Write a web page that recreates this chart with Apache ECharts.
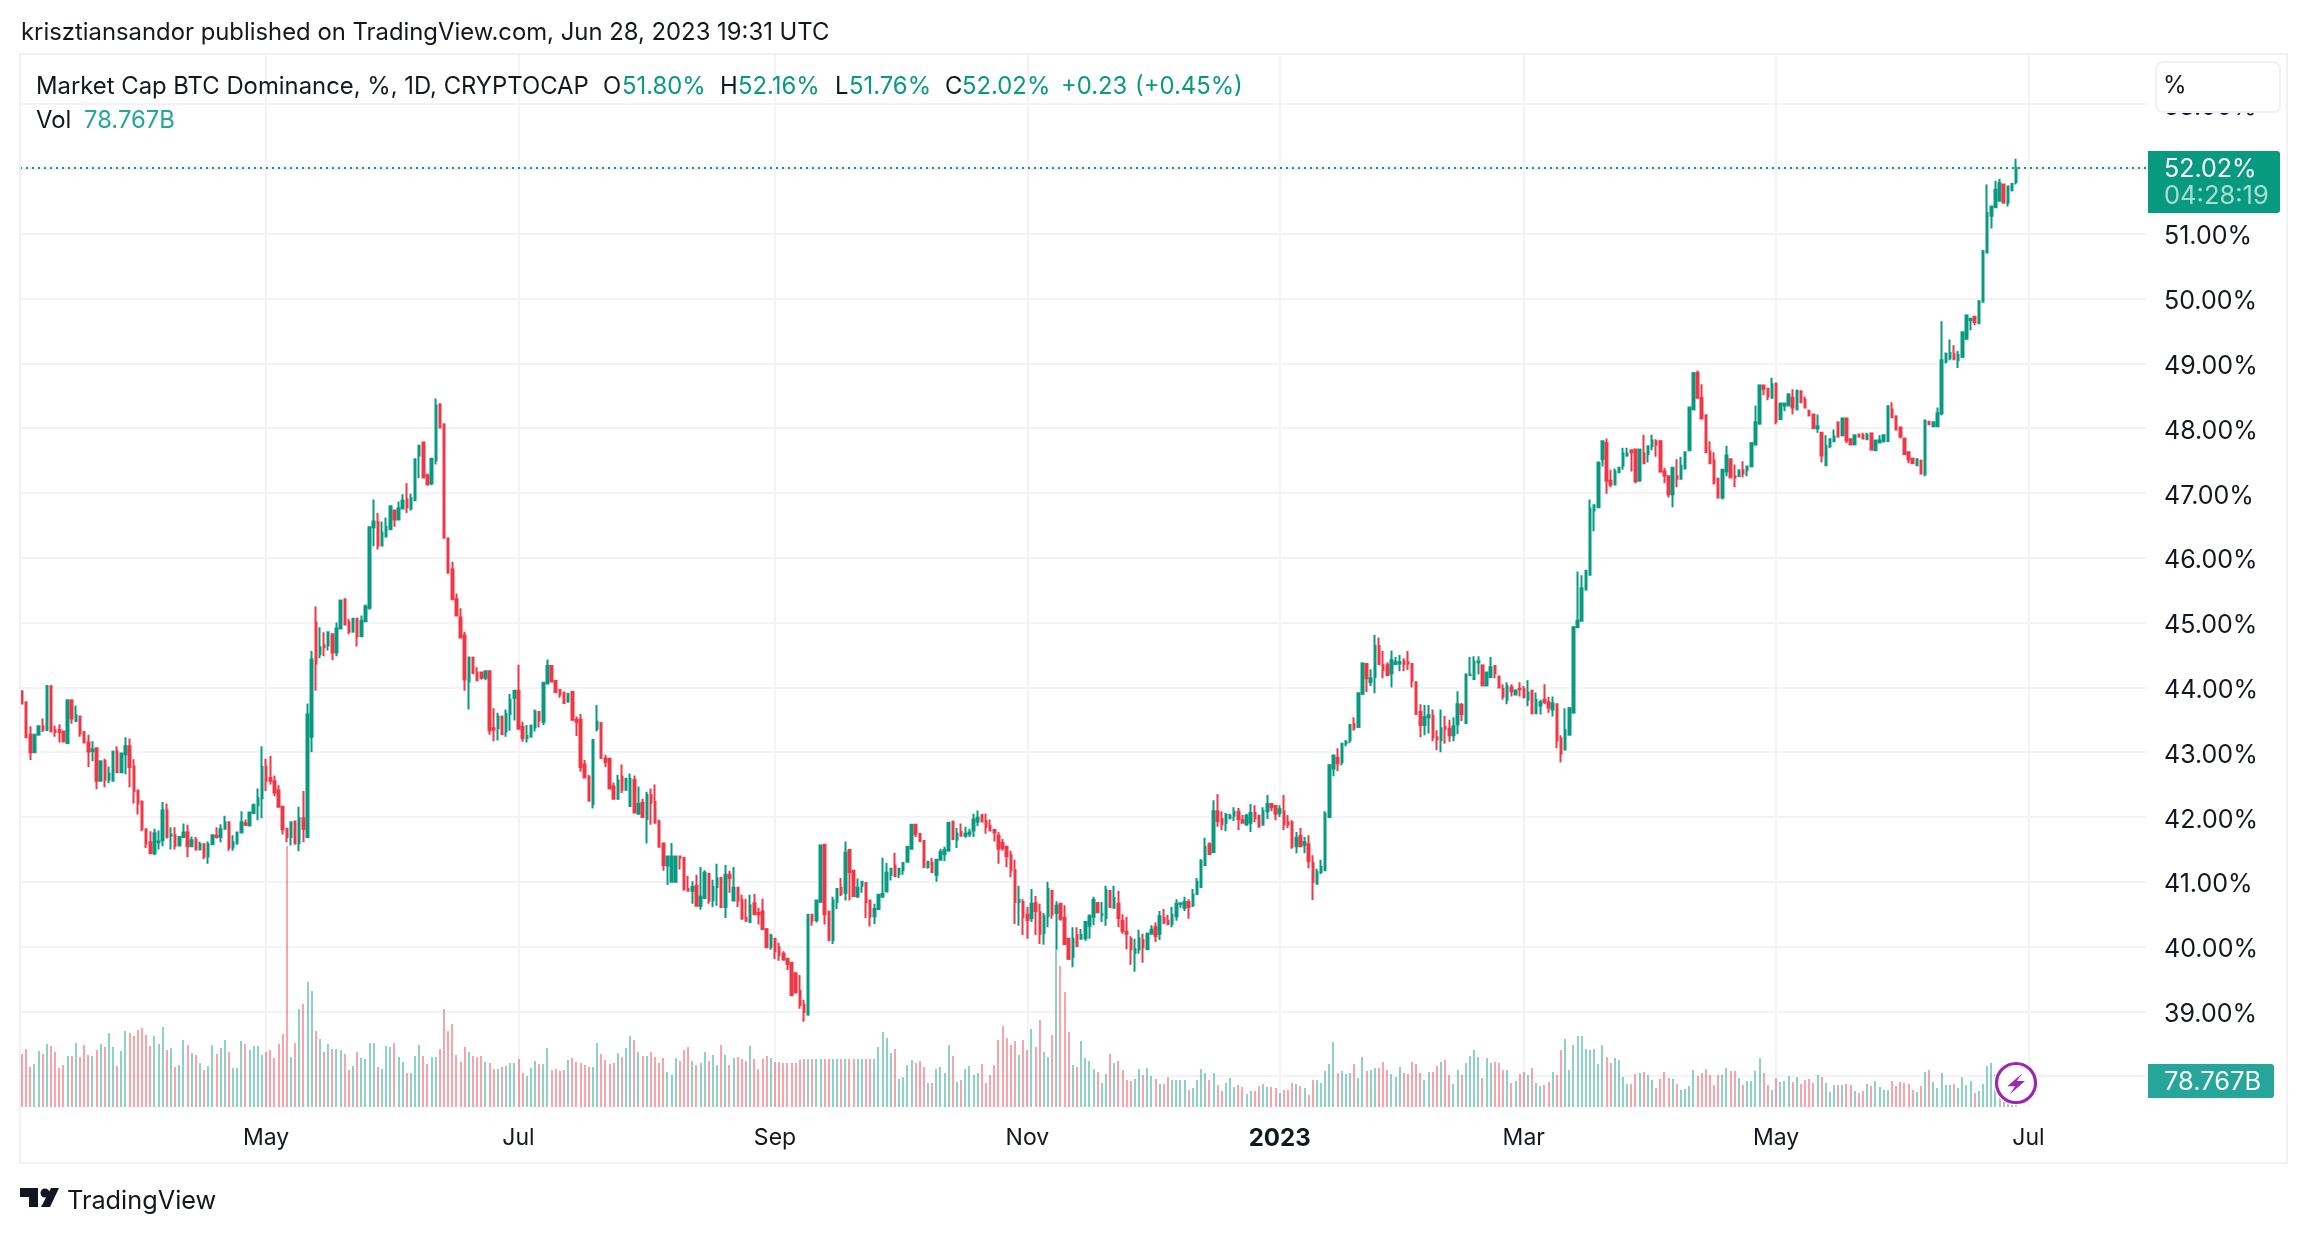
<!DOCTYPE html>
<html>
<head>
<meta charset="utf-8">
<title>BTC Dominance</title>
<script src="https://cdn.jsdelivr.net/npm/echarts@6/dist/echarts.min.js"></script>
<style>
  html, body { margin: 0; padding: 0; background: #fff; }
  #chart { width: 2308px; height: 1234px; }
</style>
</head>
<body>
<div id="chart"></div>
<script>
// daily candles, first one is 2022-03-03
var startDate = '2022-03-03';
var totalSlots = 514; // includes the empty days right of the last candle

var opens = [
  43.94,43.77,43.27,43.00,43.27,43.40,43.34,44.02,43.34,43.34,
  43.32,43.14,43.80,43.48,43.55,43.31,43.15,43.02,43.06,42.56,
  42.86,42.58,42.56,43.01,42.69,42.97,43.09,42.78,42.41,42.23,
  41.81,41.61,41.44,41.61,41.64,42.10,41.71,41.72,41.56,41.69,
  41.76,41.55,41.65,41.50,41.58,41.39,41.58,41.71,41.69,41.82,
  41.92,41.53,41.59,41.76,41.90,41.87,42.06,42.18,42.29,42.78,
  42.60,42.55,42.41,42.16,41.82,41.69,41.93,41.60,41.98,41.69,
  43.24,45.00,44.51,44.65,44.65,44.82,44.54,44.91,45.36,45.00,
  44.86,45.06,44.79,45.02,45.23,46.47,46.55,46.19,46.33,46.44,
  46.73,46.59,46.76,46.90,46.76,46.89,47.58,47.78,47.27,47.15,
  47.50,48.37,48.06,46.30,45.82,45.36,45.08,44.80,44.09,44.46,
  44.23,44.23,44.15,44.25,43.37,43.37,43.55,43.32,43.59,43.84,
  43.95,43.39,43.22,43.24,43.38,43.62,43.47,44.06,44.33,44.10,
  43.96,43.92,43.78,43.93,43.50,43.50,42.81,42.62,42.20,43.36,
  43.45,42.90,42.90,42.47,42.28,42.62,42.42,42.17,42.57,42.05,
  42.22,41.97,42.34,42.23,41.93,41.59,41.25,41.00,41.00,41.39,
  41.37,40.89,40.86,40.94,40.63,40.75,41.12,40.71,40.92,41.06,
  40.61,41.11,40.71,40.91,40.72,40.44,40.38,40.67,40.52,40.54,
  40.27,39.99,40.12,39.99,39.89,39.81,39.75,39.59,39.32,39.10,
  38.95,40.49,40.41,40.69,41.57,40.54,40.10,40.69,40.91,40.83,
  41.49,41.17,40.77,40.94,40.98,40.71,40.47,40.58,40.77,40.85,
  41.11,41.25,41.12,41.18,41.31,41.51,41.88,41.74,41.63,41.23,
  41.29,41.11,41.34,41.43,41.48,41.93,41.65,41.77,41.71,41.74,
  41.79,41.93,42.03,41.94,41.86,41.80,41.71,41.60,41.54,41.41,
  41.18,40.69,40.69,40.49,40.44,40.67,40.53,40.21,40.47,40.86,
  40.52,40.66,40.44,40.12,39.84,40.18,40.12,40.13,40.32,40.46,
  40.67,40.49,40.44,40.86,40.60,40.66,40.40,40.23,40.12,39.90,
  39.96,40.10,39.96,40.20,40.30,40.20,40.44,40.40,40.35,40.47,
  40.66,40.60,40.69,40.64,40.81,40.92,41.26,41.58,41.46,42.09,
  41.97,41.91,41.98,42.02,42.08,41.95,41.89,41.91,42.06,42.02,
  41.88,42.09,42.20,42.17,42.06,42.09,41.92,41.92,41.55,41.71,
  41.57,41.58,41.29,40.97,41.15,41.18,42.00,42.75,42.91,42.85,
  43.14,43.19,43.43,43.39,43.90,44.36,44.08,44.16,44.64,44.34,
  44.34,44.22,44.36,44.37,44.40,44.39,44.36,44.08,43.62,43.42,
  43.54,43.56,43.23,43.19,43.39,43.36,43.26,43.43,43.73,43.45,
  44.19,44.13,44.39,44.34,44.03,44.16,44.33,44.17,43.98,43.81,
  44.00,43.89,43.98,43.97,43.81,43.95,43.60,43.72,43.81,43.77,
  43.66,43.74,43.21,43.04,43.27,43.61,44.93,45.03,45.51,45.74,
  46.73,46.78,47.52,47.77,47.19,47.13,47.32,47.42,47.58,47.66,
  47.67,47.19,47.61,47.60,47.72,47.80,47.80,47.33,47.26,46.98,
  47.26,47.22,47.38,47.66,48.29,48.85,48.47,48.20,47.64,47.50,
  47.22,46.93,47.33,47.52,47.26,47.26,47.35,47.35,47.41,47.75,
  48.07,48.66,48.61,48.47,48.69,48.14,48.35,48.35,48.47,48.29,
  48.57,48.44,48.26,48.21,48.00,47.93,47.43,47.72,47.80,48.09,
  47.89,48.15,47.83,47.75,47.90,47.89,47.83,47.92,47.66,47.78,
  47.80,47.80,48.29,48.18,48.01,47.84,47.63,47.53,47.43,47.50,
  47.29,48.10,48.03,48.03,48.23,49.03,49.08,49.14,49.05,49.10,
  49.38,49.67,49.72,49.62,49.95,50.71,51.28,51.41,51.51,51.76,
  51.48,51.67,51.80
];

var closes = [
  43.75,43.23,43.00,43.27,43.40,43.35,44.02,43.32,43.31,43.31,
  43.17,43.80,43.52,43.57,43.29,43.15,43.01,43.04,42.56,42.86,
  42.58,42.67,43.01,42.69,42.98,43.09,42.77,42.40,42.21,41.82,
  41.59,41.44,41.75,41.62,42.10,41.69,41.73,41.56,41.69,41.76,
  41.55,41.64,41.50,41.58,41.39,41.58,41.72,41.69,41.81,41.92,
  41.53,41.61,41.76,41.92,41.88,42.07,42.18,42.29,42.77,42.56,
  42.56,42.38,42.16,41.81,41.69,41.92,41.59,41.98,41.82,43.58,
  44.43,44.37,44.62,44.62,44.85,44.54,44.91,45.34,44.97,44.86,
  45.06,44.79,45.03,45.25,46.47,46.56,46.19,46.39,46.48,46.79,
  46.59,46.76,46.88,46.78,46.92,47.52,47.73,47.24,47.13,47.53,
  48.35,48.01,46.31,45.77,45.36,45.11,44.77,44.12,44.46,44.22,
  44.11,44.15,44.25,43.34,43.35,43.55,43.28,43.59,43.81,43.95,
  43.36,43.22,43.25,43.41,43.63,43.49,44.07,44.33,44.09,43.93,
  43.89,43.76,43.90,43.50,43.47,42.77,42.61,42.25,43.19,43.47,
  42.91,42.85,42.44,42.28,42.56,42.42,42.59,42.59,42.07,42.20,
  42.00,42.34,42.22,41.91,41.54,41.26,41.39,41.39,41.39,41.37,
  40.88,40.86,40.92,40.63,40.77,41.14,40.71,40.92,41.05,40.61,
  41.11,41.06,40.91,40.71,40.43,40.40,40.64,40.50,40.50,40.27,
  39.99,40.17,39.93,39.87,39.80,39.73,39.25,39.29,39.10,38.99,
  40.49,40.40,40.71,41.56,40.50,40.10,40.71,40.89,40.81,41.45,
  41.15,40.78,40.91,41.00,40.69,40.46,40.58,40.80,40.81,41.14,
  41.20,41.09,41.20,41.29,41.54,41.88,41.74,41.63,41.23,41.31,
  41.15,41.34,41.46,41.49,41.91,41.66,41.74,41.71,41.74,41.76,
  41.96,41.99,41.93,41.85,41.79,41.76,41.51,41.52,41.40,41.18,
  40.69,40.72,40.46,40.41,40.66,40.55,40.20,40.47,40.89,40.50,
  40.63,40.43,40.04,39.81,40.12,40.01,40.18,40.38,40.47,40.72,
  40.53,40.50,40.87,40.61,40.75,40.44,40.24,40.20,39.96,39.96,
  40.13,39.99,40.20,40.26,40.16,40.47,40.37,40.35,40.49,40.66,
  40.67,40.69,40.61,40.80,41.00,41.32,41.54,41.43,42.09,41.94,
  41.89,42.03,42.02,42.08,41.97,41.91,42.02,42.06,41.98,41.85,
  42.09,42.20,42.15,42.05,42.12,41.89,41.89,41.54,41.68,41.55,
  41.61,41.32,41.00,41.15,41.23,42.05,42.80,42.95,42.83,43.13,
  43.16,43.42,43.37,43.91,44.37,44.14,44.14,44.64,44.36,44.27,
  44.19,44.42,44.39,44.39,44.36,44.37,44.10,43.59,43.42,43.54,
  43.57,43.23,43.20,43.37,43.36,43.26,43.40,43.74,43.59,44.20,
  44.20,44.40,44.40,44.03,44.23,44.31,44.22,44.00,43.86,44.02,
  43.94,43.95,43.97,43.85,43.92,43.60,43.81,43.77,43.78,43.69,
  43.75,43.18,42.98,43.34,43.68,44.93,45.03,45.53,45.80,46.76,
  46.81,47.47,47.80,47.19,47.13,47.33,47.39,47.61,47.61,47.63,
  47.18,47.67,47.46,47.72,47.81,47.75,47.33,47.27,46.98,47.39,
  47.22,47.42,47.63,48.32,48.85,48.47,48.15,47.63,47.46,47.16,
  46.93,47.36,47.58,47.24,47.24,47.35,47.30,47.41,47.77,48.09,
  48.66,48.61,48.49,48.68,48.10,48.38,48.38,48.52,48.32,48.58,
  48.40,48.32,48.20,48.00,48.03,47.58,47.73,47.83,47.87,47.87,
  48.15,47.81,47.75,47.89,47.87,47.84,47.90,47.67,47.81,47.81,
  47.89,48.34,48.17,47.98,47.87,47.60,47.52,47.46,47.52,47.30,
  48.12,48.06,48.09,48.23,49.05,49.15,49.16,49.07,49.13,49.48,
  49.74,49.69,49.64,49.96,50.73,51.32,51.42,51.68,51.78,51.48,
  51.73,51.77,52.02
];

var lows = [
  43.74,43.23,42.88,43.00,43.27,43.31,43.34,43.32,43.24,43.15,
  43.15,43.14,43.44,43.48,43.24,43.15,42.77,42.86,42.43,42.56,
  42.46,42.52,42.56,42.69,42.69,42.66,42.46,42.21,42.04,41.78,
  41.52,41.44,41.41,41.50,41.55,41.67,41.50,41.50,41.56,41.69,
  41.38,41.55,41.50,41.50,41.35,41.28,41.58,41.67,41.61,41.82,
  41.48,41.48,41.59,41.76,41.86,41.87,42.06,41.95,41.98,42.40,
  42.50,42.32,42.16,41.73,41.61,41.56,41.59,41.47,41.61,41.69,
  43.00,43.95,44.45,44.48,44.57,44.42,44.48,44.91,44.97,44.82,
  44.86,44.63,44.79,45.02,45.20,46.18,46.13,46.19,46.33,46.44,
  46.48,46.59,46.76,46.69,46.73,46.89,47.23,47.24,47.13,47.12,
  47.44,48.01,46.31,45.77,45.36,45.11,44.77,43.95,43.66,44.22,
  44.11,44.12,44.11,43.27,43.17,43.18,43.28,43.24,43.33,43.49,
  43.36,43.16,43.15,43.24,43.32,43.38,43.42,44.06,44.09,43.93,
  43.84,43.76,43.78,43.50,43.25,42.70,42.61,42.25,42.13,43.32,
  42.91,42.77,42.44,42.27,42.28,42.37,42.42,42.17,42.07,42.05,
  42.00,41.59,41.88,41.91,41.54,41.17,40.95,41.00,41.00,41.19,
  40.88,40.86,40.66,40.63,40.57,40.75,40.66,40.61,40.63,40.61,
  40.44,40.83,40.71,40.61,40.43,40.40,40.38,40.50,40.34,40.27,
  39.99,39.95,39.81,39.78,39.78,39.64,39.25,39.29,39.04,38.84,
  38.95,40.32,40.37,40.69,40.34,40.10,40.04,40.58,40.78,40.71,
  40.71,40.78,40.77,40.83,40.44,40.31,40.35,40.58,40.77,40.85,
  41.02,41.09,41.06,41.11,41.31,41.51,41.69,41.63,41.23,41.20,
  41.15,41.00,41.34,41.32,41.48,41.66,41.52,41.71,41.68,41.69,
  41.69,41.86,41.93,41.74,41.79,41.62,41.28,41.48,41.23,41.07,
  40.35,40.32,40.18,40.12,40.38,40.18,40.04,40.03,40.30,40.43,
  39.95,40.40,40.04,39.81,39.68,39.99,40.12,40.09,40.12,40.33,
  40.53,40.38,40.32,40.61,40.60,40.30,40.20,39.96,39.72,39.61,
  39.89,39.75,39.96,40.20,40.07,40.10,40.35,40.35,40.30,40.40,
  40.60,40.55,40.43,40.61,40.81,40.92,41.26,41.43,41.44,41.85,
  41.80,41.78,41.98,41.94,41.80,41.91,41.86,41.77,41.92,41.85,
  41.88,41.97,42.09,41.95,42.00,41.80,41.83,41.51,41.44,41.55,
  41.44,41.21,40.72,40.97,41.12,41.18,42.00,42.63,42.71,42.80,
  43.09,43.14,43.33,43.39,43.90,43.93,44.02,43.91,44.36,44.14,
  44.19,44.00,44.36,44.25,44.25,44.27,44.00,43.59,43.23,43.26,
  43.29,43.17,43.03,43.00,43.13,43.16,43.17,43.28,43.48,43.45,
  44.19,44.13,44.20,44.03,44.03,44.16,44.14,43.99,43.81,43.74,
  43.86,43.89,43.86,43.83,43.71,43.60,43.60,43.58,43.74,43.61,
  43.55,43.06,42.84,43.04,43.27,43.61,44.93,45.03,45.51,45.74,
  46.41,46.78,47.41,46.99,47.09,47.13,47.32,47.36,47.56,47.33,
  47.15,47.19,47.46,47.47,47.66,47.56,47.33,47.15,46.93,46.78,
  47.09,47.22,47.38,47.66,48.29,48.47,48.15,47.63,47.46,47.13,
  46.93,46.90,47.26,47.24,47.09,47.26,47.24,47.26,47.41,47.75,
  48.07,48.51,48.43,48.47,48.06,48.14,48.26,48.35,48.21,48.29,
  48.40,48.32,48.18,48.00,47.93,47.47,47.43,47.69,47.80,47.87,
  47.89,47.77,47.75,47.75,47.86,47.84,47.83,47.67,47.66,47.78,
  47.78,47.80,48.17,47.98,47.84,47.60,47.46,47.46,47.43,47.30,
  47.26,48.06,48.03,48.03,48.20,49.00,49.05,49.05,48.93,49.10,
  49.38,49.51,49.59,49.62,49.95,50.71,51.08,51.41,51.51,51.48,
  51.42,51.67,51.76
];

var highs = [
  43.94,43.77,43.40,43.27,43.40,43.52,44.02,44.02,43.41,43.43,
  43.32,43.80,43.80,43.72,43.55,43.31,43.27,43.17,43.06,42.86,
  42.90,42.78,43.01,43.09,42.98,43.23,43.21,42.89,42.41,42.26,
  41.81,41.78,41.82,41.79,42.23,42.21,41.84,41.84,41.69,41.90,
  41.88,41.70,41.69,41.62,41.58,41.62,41.73,41.84,41.89,42.02,
  41.92,41.72,41.76,42.09,41.96,42.07,42.21,42.44,43.09,42.90,
  42.94,42.64,42.49,42.16,41.82,41.92,41.93,42.16,42.40,43.75,
  44.56,45.25,44.93,44.85,44.85,44.82,45.00,45.34,45.36,45.06,
  45.06,45.06,45.11,45.28,46.47,46.90,46.69,46.56,46.62,46.81,
  46.73,46.87,46.98,47.15,46.99,47.52,47.73,47.78,47.30,47.53,
  48.46,48.37,48.06,46.30,45.94,45.45,45.22,44.86,44.46,44.46,
  44.31,44.23,44.25,44.25,43.68,43.61,43.55,43.66,43.90,43.95,
  44.35,43.47,43.42,43.41,43.66,43.62,44.07,44.43,44.33,44.10,
  43.96,43.92,43.90,43.93,43.55,43.59,42.88,42.65,43.19,43.73,
  43.45,42.96,42.90,42.53,42.65,42.81,42.59,42.67,42.64,42.47,
  42.28,42.39,42.44,42.50,41.96,41.59,41.39,41.60,41.39,41.39,
  41.37,41.09,41.01,41.11,41.23,41.18,41.14,41.03,41.28,41.06,
  41.26,41.17,41.23,40.91,40.80,40.74,40.80,40.81,40.60,40.74,
  40.27,40.20,40.12,40.06,39.93,39.81,39.75,39.59,39.56,39.18,
  40.49,40.49,40.71,41.56,41.57,40.54,40.77,40.89,41.06,41.62,
  41.49,41.17,41.05,41.00,40.98,40.71,40.66,40.80,41.37,41.29,
  41.20,41.45,41.20,41.29,41.54,41.88,41.88,41.74,41.63,41.31,
  41.37,41.34,41.51,41.54,41.91,41.93,41.83,41.90,41.85,41.82,
  42.05,42.10,42.03,42.05,41.96,41.80,41.77,41.66,41.54,41.48,
  41.34,40.94,40.73,40.61,40.89,40.78,40.66,40.52,41.00,40.86,
  40.70,40.66,40.64,40.12,40.30,40.30,40.27,40.38,40.50,40.77,
  40.69,40.69,40.94,40.86,40.94,40.86,40.50,40.46,40.16,40.12,
  40.26,40.20,40.20,40.33,40.37,40.55,40.58,40.49,40.61,40.73,
  40.67,40.77,40.73,40.89,41.06,41.35,41.68,41.61,42.26,42.35,
  42.09,42.06,42.05,42.15,42.14,42.03,42.05,42.20,42.18,42.02,
  42.15,42.34,42.20,42.17,42.18,42.34,42.03,41.95,41.77,41.83,
  41.69,41.72,41.41,41.20,41.34,42.09,42.80,42.95,43.06,43.13,
  43.19,43.42,43.54,43.91,44.37,44.36,44.28,44.81,44.77,44.56,
  44.39,44.57,44.47,44.50,44.45,44.56,44.36,44.08,43.74,43.73,
  43.73,43.66,43.34,43.66,43.56,43.50,43.54,43.94,43.76,44.20,
  44.47,44.48,44.48,44.34,44.23,44.47,44.33,44.17,44.05,44.08,
  44.05,43.97,44.08,44.02,44.11,43.95,43.92,43.81,44.05,43.85,
  43.86,43.74,43.26,43.68,43.68,44.93,45.79,45.73,45.80,46.90,
  46.81,47.47,47.80,47.84,47.36,47.38,47.39,47.70,47.70,47.66,
  47.67,47.67,47.90,47.72,47.90,47.83,47.80,47.39,47.26,47.39,
  47.52,47.56,47.64,48.32,48.85,48.89,48.68,48.20,47.80,47.63,
  47.22,47.36,47.73,47.52,47.44,47.35,47.49,47.41,47.77,48.35,
  48.66,48.66,48.61,48.78,48.69,48.38,48.38,48.54,48.60,48.58,
  48.57,48.49,48.29,48.21,48.21,47.93,47.89,47.83,47.98,48.09,
  48.15,48.15,47.83,47.89,47.92,47.93,47.93,47.92,47.81,47.89,
  47.89,48.34,48.40,48.20,48.01,47.84,47.63,47.53,47.53,47.50,
  48.12,48.10,48.10,48.32,49.65,49.17,49.37,49.28,49.19,49.48,
  49.74,49.69,49.73,49.96,50.75,51.76,51.42,51.82,51.85,51.76,
  51.73,51.77,52.16
];

// volume in billions
var volumes = [
  159,174,120,129,168,159,189,183,165,117,
  126,153,153,192,150,186,156,153,171,189,
  180,222,180,123,168,228,222,213,231,237,
  216,183,213,189,240,171,177,120,126,201,
  186,162,156,132,111,123,186,159,177,201,
  165,117,117,198,189,171,183,183,156,165,
  171,147,189,219,783,150,192,294,309,375,
  348,228,204,165,189,174,174,171,159,111,
  123,165,147,144,192,192,120,114,183,180,
  192,150,135,102,102,153,186,153,129,150,
  150,174,294,228,249,156,135,180,165,153,
  150,153,135,132,114,114,120,123,132,132,
  144,102,93,117,138,129,129,177,111,114,
  108,111,141,147,135,132,126,120,120,192,
  159,141,129,132,162,150,177,213,201,165,
  153,153,165,150,132,147,105,96,147,138,
  171,180,138,126,132,165,138,156,126,186,
  156,126,147,150,144,138,183,144,114,144,
  153,147,135,135,132,132,132,132,141,144,
  144,144,144,144,144,144,144,144,144,144,
  144,144,144,144,144,144,144,180,225,207,
  162,174,84,90,126,141,132,138,120,72,
  72,114,120,102,186,153,75,81,114,123,
  96,102,129,72,96,126,201,243,207,186,
  198,156,201,171,234,180,261,165,150,216,
  471,423,345,225,126,120,198,147,138,114,
  105,72,99,159,132,138,111,81,78,84,
  114,96,117,93,84,69,69,90,81,81,
  81,81,51,57,81,114,102,81,102,66,
  48,72,87,60,66,60,39,48,48,63,
  69,60,60,57,42,51,51,72,69,63,
  57,36,81,81,72,108,129,195,102,108,
  99,102,129,87,150,108,111,117,117,135,
  111,99,90,120,102,99,135,129,102,81,
  105,105,123,135,141,96,69,111,96,132,
  153,171,150,87,147,132,135,132,111,111,
  72,78,99,105,96,117,72,63,66,75,
  105,96,171,204,111,186,213,213,174,171,
  174,129,186,150,132,147,141,90,69,69,
  99,102,105,96,81,57,84,105,87,84,
  69,51,54,63,111,93,102,114,96,66,
  96,96,117,108,108,87,66,78,78,108,
  147,102,66,51,87,75,78,93,75,90,
  69,81,84,72,96,90,72,45,66,66,
  66,69,66,48,42,48,69,63,78,60,
  51,51,78,63,75,72,69,51,45,63,
  105,111,75,57,102,66,66,69,57,90,
  66,78,42,48,69,123,132,100,100,90,
  80,70,78.767
];

var tickDates = ['2022-05-01','2022-07-01','2022-09-01','2022-11-01','2023-01-01','2023-03-01','2023-05-01','2023-07-01'];
var tickLabels = ['May','Jul','Sep','Nov','2023','Mar','May','Jul'];
var priceTicks = [39,40,41,42,43,44,45,46,47,48,49,50,51,53];
var lastPrice = 52.02;

var upColor = '#089981';
var downColor = '#F23645';
var textColor = '#131722';
var gridColor = '#F2F3F5';
var borderColor = '#F0F1F6';
var fontName = 'Inter, "Noto Sans", sans-serif';

var categories = [];
for (var i = 0; i < totalSlots; i++) {
  var d = new Date(Date.parse(startDate + 'T00:00:00Z') + i * 86400000);
  categories.push(d.toISOString().slice(0, 10));
}

var candleData = opens.map(function(o, i) {
  return [o, closes[i], lows[i], highs[i]];
});

var volumeData = volumes.map(function(v, i) {
  return [i, v];
});

function label(text, x, y, color, size, extra) {
  var st = { text: text, x: x, y: y, fill: color, font: (size || 23.85) + 'px ' + fontName, textVerticalAlign: 'middle' };
  if (extra) { for (var k in extra) { st[k] = extra[k]; } }
  return { type: 'text', z: 120, silent: true, style: st };
}

var graphics = [
  // panel frame
  { type: 'rect', z: 90, silent: true, shape: { x: 20, y: 54, width: 2267, height: 1109 }, style: { fill: 'none', stroke: borderColor, lineWidth: 2 } },
  // price tag
  { type: 'rect', z: 100, silent: true, shape: { x: 2148, y: 151, width: 132, height: 62, r: [0, 3, 3, 0] }, style: { fill: upColor } },
  label('52.02%', 2164, 169, '#ffffff', 25),
  label('04:28:19', 2164, 196, 'rgba(255,255,255,0.65)', 25.5),
  // volume tag
  { type: 'rect', z: 100, silent: true, shape: { x: 2148, y: 1064, width: 126, height: 34, r: [0, 3, 3, 0] }, style: { fill: '#26A69A' } },
  label('78.767B', 2164, 1082, '#ffffff', 25.5),
  // scale box
  { type: 'rect', z: 100, silent: true, shape: { x: 2156, y: 62, width: 124, height: 50, r: 7 }, style: { fill: '#ffffff', stroke: borderColor, lineWidth: 2 } },
  label('%', 2163, 86, textColor, 24),
  // header
  label('krisztiansandor published on TradingView.com, Jun 28, 2023 19:31 UTC', 21, 33, textColor),
  label('Market Cap BTC Dominance, %, 1D, CRYPTOCAP', 36, 87, textColor),
  label('O', 603, 87, textColor),
  label('51.80%', 622, 87, upColor),
  label('H', 720, 87, textColor),
  label('52.16%', 738, 87, upColor),
  label('L', 835, 87, textColor),
  label('51.76%', 849, 87, upColor),
  label('C', 945, 87, textColor),
  label('52.02%', 962, 87, upColor),
  label('+0.23', 1061, 87, upColor),
  label('(+0.45%)', 1135, 87, upColor),
  label('Vol', 36, 121, textColor),
  label('78.767B', 84, 121, '#26A69A'),
  // footer logo
  { type: 'polygon', z: 100, silent: true, shape: { points: [[20, 1188], [38, 1188], [38, 1207], [29, 1207], [29, 1197], [20, 1197]] }, style: { fill: textColor } },
  { type: 'circle', z: 100, silent: true, shape: { cx: 45, cy: 1193, r: 4.5 }, style: { fill: textColor } },
  { type: 'polygon', z: 100, silent: true, shape: { points: [[51, 1188], [59, 1188], [50, 1207], [41, 1207]] }, style: { fill: textColor } },
  label('TradingView', 67, 1201, textColor, 25.3),
  // lightning icon over the last bars
  { type: 'circle', z: 100, silent: true, shape: { cx: 2016, cy: 1083, r: 22.5 }, style: { fill: '#ffffff' } },
  { type: 'circle', z: 101, silent: true, shape: { cx: 2016, cy: 1083, r: 19.5 }, style: { fill: '#ffffff', stroke: '#9C27B0', lineWidth: 3.2 } },
  { type: 'polygon', z: 102, silent: true, shape: { points: [[2022.7, 1073], [2007.3, 1086.3], [2015, 1086.3], [2010, 1094.3], [2025, 1081], [2016.7, 1081]] }, style: { fill: '#9C27B0' } }
];

// volume bars snapped to whole pixels so they stay crisp at 2px wide
function renderVolume(params, api) {
  var idx = api.value(0);
  var top = api.coord([idx, api.value(1)]);
  var base = api.coord([idx, 0]);
  return {
    type: 'rect',
    shape: { x: Math.round(top[0]) - 1, y: Math.round(top[1]), width: 2, height: Math.round(base[1]) - Math.round(top[1]) },
    style: { fill: closes[idx] >= opens[idx] ? 'rgba(8,153,129,0.45)' : 'rgba(242,54,69,0.45)' }
  };
}

var chart = echarts.init(document.getElementById('chart'));
chart.setOption({
  animation: false,
  backgroundColor: '#ffffff',
  grid: [
    { left: 20, top: 39.4, width: 2126.4, height: 1101.6 },
    { left: 20, top: 54, width: 2126.4, height: 1053 }
  ],
  xAxis: [
    { type: 'category', gridIndex: 0, data: categories, show: false },
    {
      type: 'category',
      gridIndex: 1,
      data: categories,
      axisLine: { show: false },
      axisTick: { show: false, alignWithLabel: true },
      splitLine: {
        show: true,
        alignWithLabel: true,
        interval: function(idx, val) { return tickDates.indexOf(val) >= 0; },
        lineStyle: { color: gridColor, width: 2 }
      },
      axisLabel: {
        interval: function(idx, val) { return tickDates.indexOf(val) >= 0; },
        formatter: function(val) {
          var text = tickLabels[tickDates.indexOf(val)];
          return text === '2023' ? '{b|' + text + '}' : text;
        },
        rich: { b: { fontWeight: 'bold', fontSize: 24, fontFamily: fontName, color: textColor } },
        color: textColor,
        fontSize: 23,
        fontFamily: fontName,
        margin: 20,
        hideOverlap: false
      }
    }
  ],
  yAxis: [
    {
      type: 'value',
      gridIndex: 0,
      position: 'right',
      min: 37,
      max: 54,
      interval: 1,
      axisLine: { show: false },
      axisTick: { show: false },
      splitLine: { show: true, showMinLine: false, showMaxLine: false, lineStyle: { color: gridColor, width: 2 } },
      axisLabel: {
        color: textColor,
        margin: 17.6,
        showMinLabel: false,
        showMaxLabel: false,
        rich: { p: { fontSize: 25, fontFamily: fontName, color: textColor, padding: [6, 0, 0, 0] } },
        formatter: function(v) { return priceTicks.indexOf(v) >= 0 ? '{p|' + v.toFixed(2) + '%}' : ''; }
      }
    },
    { type: 'value', gridIndex: 1, min: 0, max: 3159, show: false }
  ],
  series: [
    {
      type: 'custom',
      name: 'Vol',
      xAxisIndex: 1,
      yAxisIndex: 1,
      data: volumeData,
      encode: { x: 0, y: 1 },
      renderItem: renderVolume,
      silent: true,
      z: 2
    },
    {
      type: 'candlestick',
      name: 'BTC.D',
      xAxisIndex: 0,
      yAxisIndex: 0,
      data: candleData,
      barWidth: 2,
      silent: true,
      z: 3,
      itemStyle: {
        color: upColor,
        color0: downColor,
        borderColor: upColor,
        borderColor0: downColor,
        borderWidth: 2
      },
      markLine: {
        silent: true,
        symbol: 'none',
        animation: false,
        label: { show: false },
        lineStyle: { color: upColor, type: [2, 4], width: 2 },
        data: [{ yAxis: lastPrice }]
      }
    }
  ],
  graphic: { elements: graphics }
});

window.addEventListener('resize', function() {
  chart.resize();
});
</script>
</body>
</html>
